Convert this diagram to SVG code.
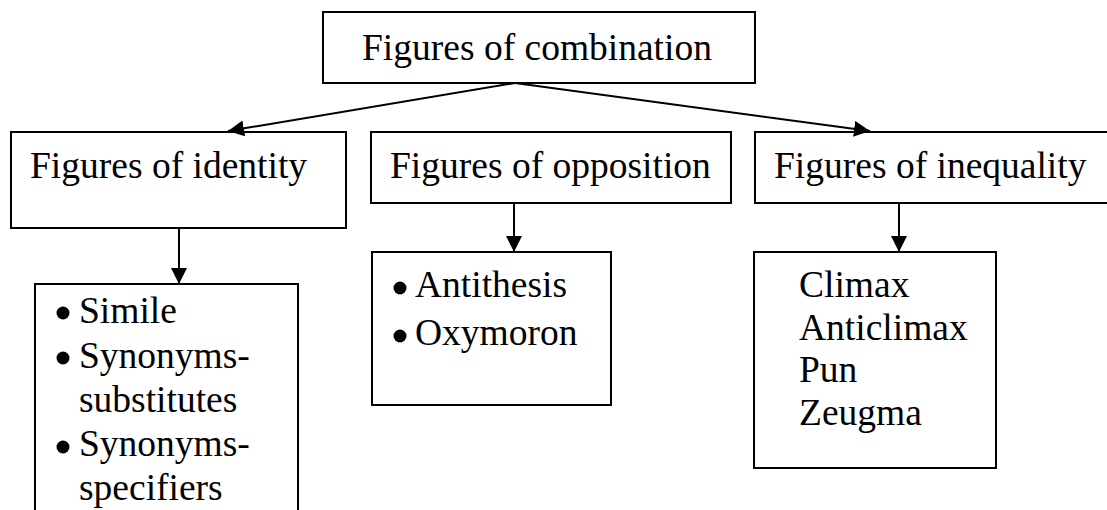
<svg xmlns="http://www.w3.org/2000/svg" width="1107" height="510" viewBox="0 0 1107 510">
  <style>
    .box { fill: #ffffff; stroke: #000000; stroke-width: 2; }
    .lbl { font-family: "Liberation Serif", "Times New Roman", serif; font-size: 37.5px; fill: #000000; }
    .edge { stroke: #000000; stroke-width: 2; fill: none; marker-end: url(#head); }
    .dot { fill: #000000; }
  </style>
  <defs>
    <marker id="head" markerUnits="userSpaceOnUse" markerWidth="18" markerHeight="18" refX="16" refY="8" orient="auto">
      <path d="M0,0 L16,8 L0,16 z" fill="#000000"/>
    </marker>
  </defs>
  <rect width="1107" height="510" fill="#ffffff"/>

  <!-- root -->
  <g id="combination">
    <rect class="box" x="323" y="12" width="432" height="71"/>
    <text class="lbl" x="362" y="60">Figures of combination</text>
  </g>

  <!-- second level -->
  <g id="identity">
    <rect class="box" x="11" y="132" width="335" height="96"/>
    <text class="lbl" x="30" y="178">Figures of identity</text>
  </g>
  <g id="opposition">
    <rect class="box" x="371" y="132" width="360" height="71"/>
    <text class="lbl" x="390" y="178">Figures of opposition</text>
  </g>
  <g id="inequality">
    <rect class="box" x="755" y="132" width="360" height="71"/>
    <text class="lbl" x="774" y="178">Figures of inequality</text>
  </g>

  <!-- third level lists -->
  <g id="identity-list">
    <rect class="box" x="35" y="284" width="263" height="240"/>
    <circle class="dot" cx="63" cy="313" r="6.5"/>
    <text class="lbl" x="79" y="322.5">Simile</text>
    <circle class="dot" cx="63" cy="358" r="6.5"/>
    <text class="lbl" x="79" y="367.5">Synonyms-</text>
    <text class="lbl" x="79" y="411.5">substitutes</text>
    <circle class="dot" cx="63" cy="447" r="6.5"/>
    <text class="lbl" x="79" y="456">Synonyms-</text>
    <text class="lbl" x="79" y="500">specifiers</text>
  </g>
  <g id="opposition-list">
    <rect class="box" x="372" y="252" width="239" height="153"/>
    <circle class="dot" cx="400" cy="288" r="6.5"/>
    <text class="lbl" x="415" y="296.5">Antithesis</text>
    <circle class="dot" cx="400" cy="336" r="6.5"/>
    <text class="lbl" x="415" y="345">Oxymoron</text>
  </g>
  <g id="inequality-list">
    <rect class="box" x="754" y="252" width="242" height="216"/>
    <text class="lbl" x="799" y="296.5">Climax</text>
    <text class="lbl" x="799" y="339.5">Anticlimax</text>
    <text class="lbl" x="799" y="382">Pun</text>
    <text class="lbl" x="799" y="425">Zeugma</text>
  </g>

  <!-- connectors -->
  <g id="connectors">
    <line class="edge" x1="515" y1="83" x2="228" y2="131"/>
    <line class="edge" x1="515" y1="83" x2="870" y2="131"/>
    <line class="edge" x1="179" y1="228" x2="179" y2="284"/>
    <line class="edge" x1="514" y1="203" x2="514" y2="252"/>
    <line class="edge" x1="899" y1="203" x2="899" y2="252"/>
  </g>
</svg>
